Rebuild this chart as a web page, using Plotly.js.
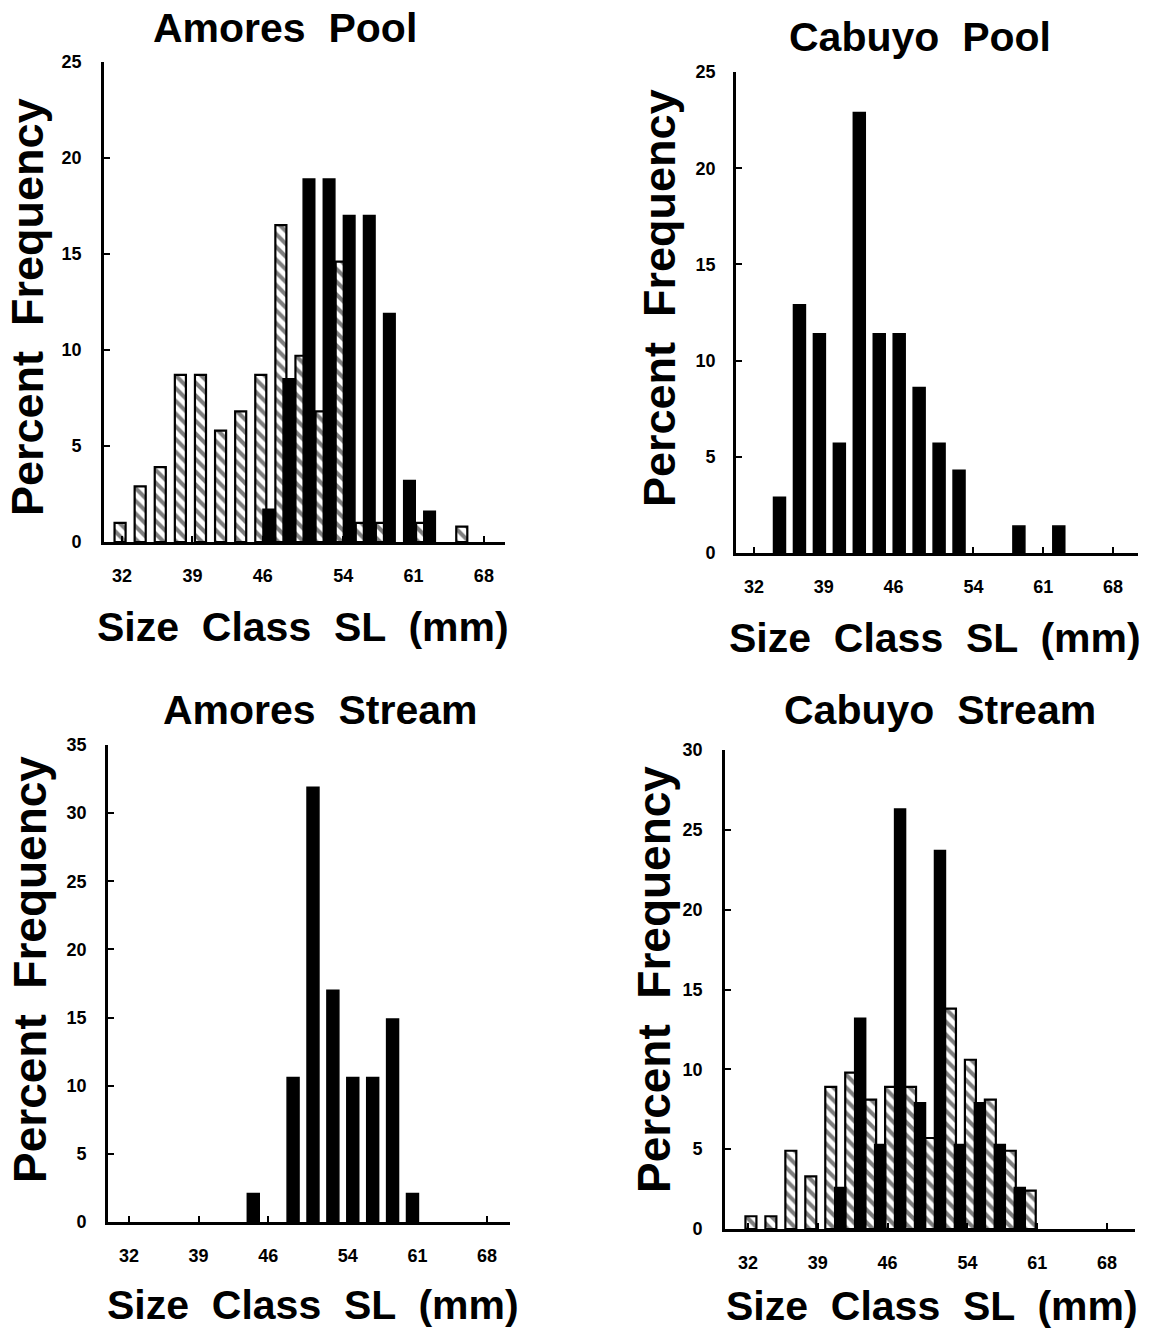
<!DOCTYPE html>
<html>
<head>
<meta charset="utf-8">
<script src="https://cdn.plot.ly/plotly-3.0.1.min.js"></script>
<style>html,body{margin:0;padding:0;background:#fff;}#chart{width:1152px;height:1330px;}</style>
</head>
<body>
<div id="chart"></div>
<script>
// ---- data (percent frequency by size class, SL mm) ----
var panelTitles = ["Amores  Pool", "Cabuyo  Pool", "Amores  Stream", "Cabuyo  Stream"];
var xTickVals = [32, 39, 46, 54, 61, 68];
var xTickText = ["32", "39", "46", "54", "61", "68"];

var amoresPoolHatchedX = [32, 34, 36, 38, 40, 42, 44, 46, 48, 50, 52, 54, 56, 58, 62, 66];
var amoresPoolHatchedY = [1.0, 2.9, 3.9, 8.7, 8.7, 5.8, 6.8, 8.7, 16.5, 9.7, 6.8, 14.6, 1.0, 1.0, 1.0, 0.8];
var amoresPoolBlackX = [46, 48, 50, 52, 54, 56, 58, 60, 62];
var amoresPoolBlackY = [1.7, 8.5, 18.9, 18.9, 17.0, 17.0, 11.9, 3.2, 1.6];

var cabuyoPoolBlackX = [34, 36, 38, 40, 42, 44, 46, 48, 50, 52, 58, 62];
var cabuyoPoolBlackY = [2.9, 12.9, 11.4, 5.7, 22.9, 11.4, 11.4, 8.6, 5.7, 4.3, 1.4, 1.4];

var amoresStreamBlackX = [44, 48, 50, 52, 54, 56, 58, 60];
var amoresStreamBlackY = [2.1, 10.6, 31.9, 17.0, 10.6, 10.6, 14.9, 2.1];

var cabuyoStreamHatchedX = [32, 34, 36, 38, 40, 42, 44, 46, 48, 50, 52, 54, 56, 58, 60];
var cabuyoStreamHatchedY = [0.8, 0.8, 4.9, 3.3, 8.9, 9.8, 8.1, 8.9, 8.9, 5.7, 13.8, 10.6, 8.1, 4.9, 2.4];
var cabuyoStreamBlackX = [40, 42, 44, 46, 48, 50, 52, 54, 56, 58];
var cabuyoStreamBlackY = [2.6, 13.2, 5.3, 26.3, 7.9, 23.7, 5.3, 7.9, 5.3, 2.6];

var yMax = [25, 25, 35, 30];

// ---- layout helpers ----
var W = 1152, H = 1330;
function px(x) { return x / W; }
function py(y) { return 1 - y / H; }
var FONT = "Liberation Sans, Arial, Helvetica, sans-serif";

function hatched(x, y, xa, ya, off, w) {
  return {
    type: "bar", x: x, y: y, xaxis: xa, yaxis: ya,
    offset: off, width: w,
    marker: {
      color: "#ffffff",
      line: {color: "#000000", width: 2.2},
      pattern: {shape: "\\", fgcolor: "#000000", bgcolor: "#ffffff", size: 9, solidity: 0.45, fillmode: "overlay"}
    },
    hoverinfo: "x+y", showlegend: false
  };
}
function solid(x, y, xa, ya, off, w) {
  return {
    type: "bar", x: x, y: y, xaxis: xa, yaxis: ya,
    offset: off, width: w,
    marker: {color: "#000000", line: {color: "#000000", width: 1.5}},
    hoverinfo: "x+y", showlegend: false
  };
}

var traces = [
  hatched(amoresPoolHatchedX, amoresPoolHatchedY, "x", "y", -0.75, 1.1),
  solid(amoresPoolBlackX, amoresPoolBlackY, "x", "y", 0.02, 1.15),
  solid(cabuyoPoolBlackX, cabuyoPoolBlackY, "x2", "y2", -0.04, 1.2),
  solid(amoresStreamBlackX, amoresStreamBlackY, "x3", "y3", -0.1, 1.2),
  hatched(cabuyoStreamHatchedX, cabuyoStreamHatchedY, "x4", "y4", -0.25, 1.1),
  solid(cabuyoStreamBlackX, cabuyoStreamBlackY, "x4", "y4", 0.7, 1.1)
];

// panel geometry in pixels: [left, right, top(ymax), bottom(0)], x range, y label standoff
var geo = [
  {l: 104, r: 505, t: 62, b: 542, xr: [30.2, 70.1], ys: 16},
  {l: 736, r: 1138, t: 72, b: 553, xr: [30.2, 70.5], ys: 14},
  {l: 108, r: 510, t: 745, b: 1222, xr: [29.9, 70.3], ys: 15},
  {l: 725, r: 1135, t: 750, b: 1229, xr: [29.7, 70.8], ys: 16}
];

var layout = {
  width: W, height: H,
  margin: {l: 0, r: 0, t: 0, b: 0, pad: 0},
  paper_bgcolor: "#ffffff", plot_bgcolor: "#ffffff",
  barmode: "overlay",
  showlegend: false,
  font: {family: FONT, color: "#000000"},
  annotations: []
};

geo.forEach(function (g, i) {
  var sfx = i === 0 ? "" : String(i + 1);
  var yt = [];
  for (var v = 0; v <= yMax[i]; v += 5) yt.push(v);
  layout["xaxis" + sfx] = {
    domain: [px(g.l), px(g.r)], range: g.xr, anchor: "y" + sfx,
    showline: true, linecolor: "#000000", linewidth: 2.8,
    showgrid: false, zeroline: false,
    ticks: "inside", ticklen: 6, tickwidth: 2, tickcolor: "#000000",
    tickvals: xTickVals, ticktext: xTickText,
    ticklabelstandoff: 16,
    tickfont: {family: FONT, size: 18, weight: 700, color: "#000000"},
    fixedrange: true
  };
  layout["yaxis" + sfx] = {
    domain: [py(g.b), py(g.t)], range: [0, yMax[i]], anchor: "x" + sfx,
    showline: true, linecolor: "#000000", linewidth: 2.8,
    showgrid: false, zeroline: false,
    ticks: "inside", ticklen: 6, tickwidth: 2, tickcolor: "#000000",
    tickvals: yt,
    ticklabelstandoff: g.ys,
    tickfont: {family: FONT, size: 18, weight: 700, color: "#000000"},
    fixedrange: true
  };
});

// titles and axis titles
var titlePos = [[285, 28], [920, 37], [320, 710], [940, 710]];
var xTitlePos = [[303, 627], [935, 638], [313, 1305], [932, 1306]];
var yTitlePos = [[27, 307], [659, 298], [30, 970], [654, 980]];
var yTitleSize = [45, 45, 46, 46];
for (var i = 0; i < 4; i++) {
  layout.annotations.push({
    text: panelTitles[i], xref: "paper", yref: "paper",
    x: px(titlePos[i][0]), y: py(titlePos[i][1]), xanchor: "center", yanchor: "middle",
    showarrow: false, font: {family: FONT, size: 41, weight: 700, color: "#000000"}
  });
  layout.annotations.push({
    text: "Size  Class  SL  (mm)", xref: "paper", yref: "paper",
    x: px(xTitlePos[i][0]), y: py(xTitlePos[i][1]), xanchor: "center", yanchor: "middle",
    showarrow: false, font: {family: FONT, size: 41, weight: 700, color: "#000000"}
  });
  layout.annotations.push({
    text: "Percent  Frequency", xref: "paper", yref: "paper", textangle: -90,
    x: px(yTitlePos[i][0]), y: py(yTitlePos[i][1]), xanchor: "center", yanchor: "middle",
    showarrow: false, font: {family: FONT, size: yTitleSize[i], weight: 700, color: "#000000"}
  });
}

Plotly.newPlot("chart", traces, layout, {staticPlot: true, displayModeBar: false});
</script>
</body>
</html>
